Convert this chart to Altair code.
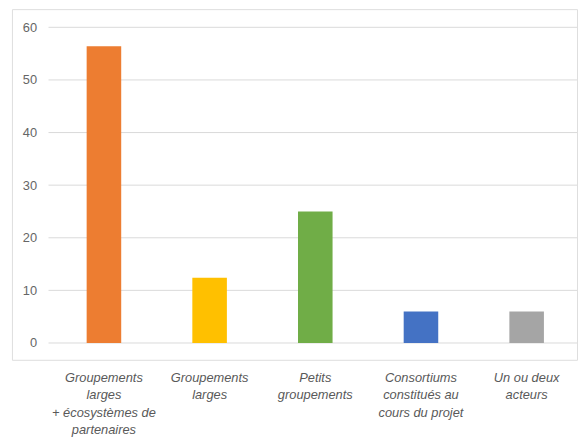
import altair as alt
import pandas as pd

categories = [
    "Groupements|larges|+ écosystèmes de|partenaires",
    "Groupements|larges",
    "Petits|groupements",
    "Consortiums|constitués au|cours du projet",
    "Un ou deux|acteurs",
]
values = [56.4, 12.4, 25.0, 6.0, 6.0]
colors = ["#ED7D31", "#FFC000", "#70AD47", "#4472C4", "#A5A5A5"]
grid_values = [0, 10, 20, 30, 40, 50, 60]

df = pd.DataFrame({"cat": categories, "val": values, "color": colors})
gdf = pd.DataFrame({"g": grid_values})

W, H = 572, 355
yscale = alt.Scale(domain=[-3.2, 63.46], nice=False, zero=False)
yaxis = alt.Axis(
    title=None,
    values=grid_values,
    grid=False,
    domain=False,
    ticks=False,
    offset=-29,
    labelPadding=4,
    labelFont="Liberation Sans",
    labelFontSize=13,
    labelColor="#666666",
)

grid = alt.Chart(gdf).mark_rule(color="#d9d9d9", strokeWidth=1).encode(
    y=alt.Y("g:Q", scale=yscale, axis=yaxis),
    x=alt.value(37),
    x2=alt.value(W),
)

bars = alt.Chart(df).mark_bar().encode(
    x=alt.X(
        "cat:N",
        sort=categories,
        scale=alt.Scale(paddingInner=0.673, paddingOuter=0.51, align=0.693),
        axis=alt.Axis(
            title=None,
            labelAngle=0,
            domain=False,
            ticks=False,
            labelExpr="split(datum.label, '|')",
            labelFont="Liberation Sans",
            labelFontStyle="italic",
            labelFontSize=13,
            labelColor="#595959",
            labelLineHeight=17.5,
            labelPadding=12,
            labelBaseline="top",
        ),
    ),
    y=alt.Y("val:Q", scale=yscale, axis=yaxis),
    color=alt.Color("color:N", scale=None, legend=None),
)

chart = alt.layer(grid, bars).properties(
    width=W, height=H,
    padding={"left": 4, "top": -1.5, "right": 0, "bottom": 0},
).configure_view(stroke="#d9d9d9", strokeWidth=1.5).configure(background="white")

chart.save("out.html", embed_options={"renderer": "svg", "actions": False})
